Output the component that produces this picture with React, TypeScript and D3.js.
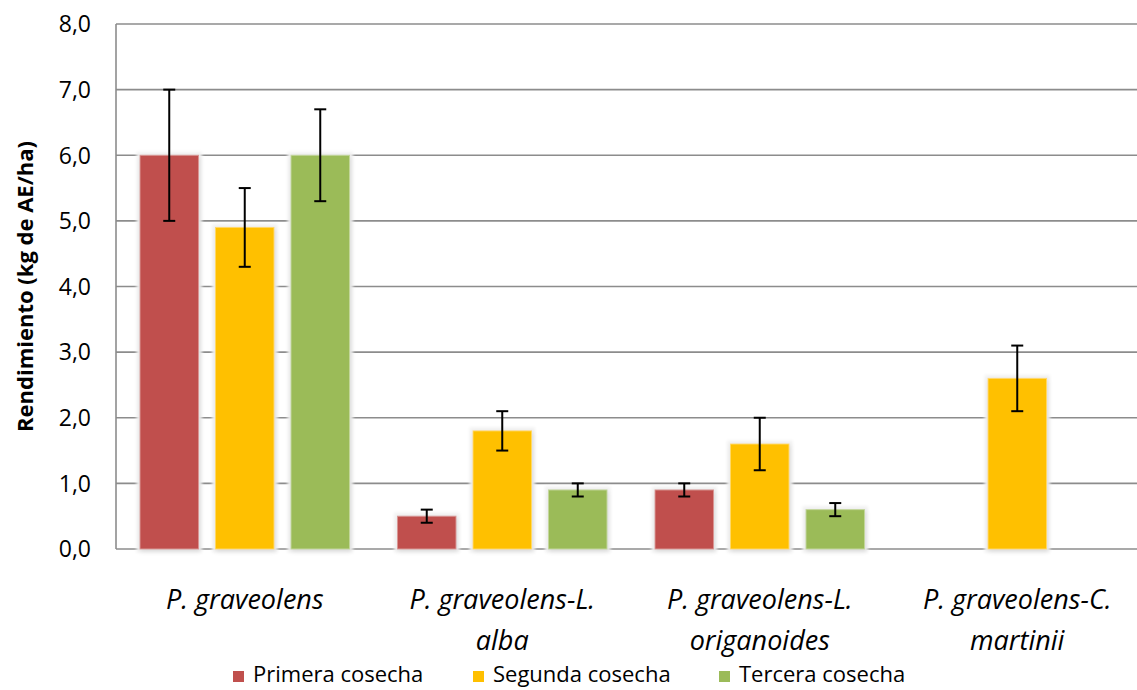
import React from "react";
import * as d3 from "d3";

const categories = [
  "P. graveolens",
  "P. graveolens-L. alba",
  "P. graveolens-L. origanoides",
  "P. graveolens-C. martinii",
];
const series = ["Primera cosecha", "Segunda cosecha", "Tercera cosecha"];
const colors = ["#C0504D", "#FFC000", "#9BBB59"];
const strokeColors = ["#D99694", "#FFD966", "#C3D69B"];

// values per series (null = no bar)
const primera: (number | null)[] = [6.0, 0.5, 0.9, null];
const segunda: (number | null)[] = [4.9, 1.8, 1.6, 2.6];
const tercera: (number | null)[] = [6.0, 0.9, 0.6, null];
const values = [primera, segunda, tercera];

// error (± amounts)
const primeraErr = [1.0, 0.1, 0.1, 0];
const segundaErr = [0.6, 0.3, 0.4, 0.5];
const terceraErr = [0.7, 0.1, 0.1, 0];
const errors = [primeraErr, segundaErr, terceraErr];

const yTicks = [0, 1, 2, 3, 4, 5, 6, 7, 8];
const yTitle = "Rendimiento (kg de AE/ha)";

const W = 1137;
const H = 690;
const left = 116;
const right = 1146;
const top = 24;
const bottom = 549;

export default function App() {
  const y = d3.scaleLinear().domain([0, 8]).range([bottom, top]);
  const x0 = d3.scaleBand<string>().domain(categories).range([left, right]);
  const x1 = d3
    .scaleBand<string>()
    .domain(series)
    .range([0, x0.bandwidth()])
    .paddingInner(0.2254)
    .paddingOuter(0.318);
  const fmt = (v: number) => d3.format(".1f")(v).replace(".", ",");

  const wrap = (s: string) => {
    const m = s.match(/^(.*-[A-Z]\.)\s(.*)$/);
    return m ? [m[1], m[2]] : [s];
  };

  const legendX = [233, 473, 719];

  return (
    <svg
      width={W}
      height={H}
      style={{ position: "absolute", left: 0, top: 0, background: "#fff" }}
      fontFamily="'Open Sans', sans-serif"
    >
      <defs>
        <filter id="barfx" x="-40%" y="-40%" width="180%" height="180%">
          <feMorphology in="SourceAlpha" operator="dilate" radius="3" result="dil" />
          <feGaussianBlur in="dil" stdDeviation="1.5" result="dilb" />
          <feFlood floodColor="#f2f2f2" result="hc" />
          <feComposite in="hc" in2="dilb" operator="in" result="halo" />
          <feGaussianBlur in="SourceAlpha" stdDeviation="2" result="sb" />
          <feOffset in="sb" dx="1" dy="2" result="so" />
          <feFlood floodColor="#000" floodOpacity="0.22" result="sc" />
          <feComposite in="sc" in2="so" operator="in" result="shadow" />
          <feMerge>
            <feMergeNode in="halo" />
            <feMergeNode in="shadow" />
            <feMergeNode in="SourceGraphic" />
          </feMerge>
        </filter>
      </defs>

      {/* gridlines */}
      {yTicks.map((t) => (
        <line
          key={"g" + t}
          x1={left}
          x2={right}
          y1={y(t)}
          y2={y(t)}
          stroke="#8C8C8C"
          strokeWidth={1.6}
        />
      ))}
      {/* left axis */}
      <line x1={left} x2={left} y1={top} y2={bottom} stroke="#8C8C8C" strokeWidth={1.6} />

      {/* y tick labels */}
      {yTicks.map((t) => (
        <text
          key={"t" + t}
          x={91}
          y={y(t)}
          dy="0.36em"
          textAnchor="end"
          fontSize={23}
          fill="#000"
        >
          {fmt(t)}
        </text>
      ))}

      {/* y title */}
      <text
        transform={`translate(33,${(top + bottom) / 2}) rotate(-90)`}
        textAnchor="middle"
        fontSize={22}
        fontWeight="bold"
        fill="#000"
      >
        {yTitle}
      </text>

      {/* bars */}
      {categories.map((c, ci) => (
        <g key={c} transform={`translate(${x0(c)},0)`}>
          {series.map((s, si) => {
            const v = values[si][ci];
            if (v == null) return null;
            const bx = x1(s)!;
            const bw = x1.bandwidth();
            return (
              <rect
                key={s}
                x={bx}
                y={y(v)}
                width={bw}
                height={y(0) - y(v)}
                fill={colors[si]}
                stroke={strokeColors[si]}
                strokeWidth={1}
                filter="url(#barfx)"
              />
            );
          })}
        </g>
      ))}

      {/* error bars */}
      {categories.map((c, ci) => (
        <g key={"e" + c} transform={`translate(${x0(c)},0)`}>
          {series.map((s, si) => {
            const v = values[si][ci];
            const e = errors[si][ci];
            if (v == null || !e) return null;
            const cx = x1(s)! + x1.bandwidth() / 2;
            return (
              <g key={s} stroke="#000" strokeWidth={2}>
                <line x1={cx} x2={cx} y1={y(v + e)} y2={y(v - e)} />
                <line x1={cx - 6} x2={cx + 6} y1={y(v + e)} y2={y(v + e)} />
                <line x1={cx - 6} x2={cx + 6} y1={y(v - e)} y2={y(v - e)} />
              </g>
            );
          })}
        </g>
      ))}

      {/* category labels */}
      {categories.map((c) => {
        const lines = wrap(c);
        const cx = x0(c)! + x0.bandwidth() / 2;
        return (
          <text
            key={"c" + c}
            x={cx}
            y={609}
            textAnchor="middle"
            fontSize={27}
            fontStyle="italic"
            fill="#000"
          >
            {lines.map((l, i) => (
              <tspan key={i} x={cx} dy={i === 0 ? 0 : 41}>
                {l}
              </tspan>
            ))}
          </text>
        );
      })}

      {/* legend */}
      {series.map((s, si) => (
        <g key={"l" + s}>
          <rect x={legendX[si]} y={671} width={11} height={11} fill={colors[si]} />
          <text x={legendX[si] + 20} y={682} fontSize={22} fill="#000">
            {s}
          </text>
        </g>
      ))}
    </svg>
  );
}
